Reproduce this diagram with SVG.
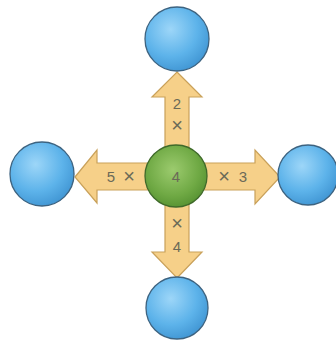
<svg xmlns="http://www.w3.org/2000/svg" width="336" height="341" viewBox="0 0 336 341">
<defs>
<radialGradient id="blue" cx="0.4" cy="0.35" r="0.7">
<stop offset="0" stop-color="#9dd6f8"/>
<stop offset="0.6" stop-color="#5db3ea"/>
<stop offset="1" stop-color="#3f94d2"/>
</radialGradient>
<radialGradient id="green" cx="0.45" cy="0.4" r="0.7">
<stop offset="0" stop-color="#9ccb6e"/>
<stop offset="0.6" stop-color="#6fa944"/>
<stop offset="1" stop-color="#4e8a2c"/>
</radialGradient>
<style>
.arrow{fill:#f6d089;stroke:#c9a15a;stroke-width:1.2;stroke-linejoin:miter}
.blue{fill:url(#blue);stroke:#3d6380;stroke-width:1.3}
.green{fill:url(#green);stroke:#3f6a2a;stroke-width:1.3}
.lbl{font-family:"Liberation Sans",Arial,sans-serif;font-size:15px;fill:#6b6a58;text-anchor:middle;dominant-baseline:central}
.x{font-size:20px}
</style>
</defs>
<rect width="336" height="341" fill="#ffffff"/>
<g id="connectors">
<polygon class="arrow" points="177,72 202,97 189,97 189,176 165,176 165,97 152,97"/>
<polygon class="arrow" points="177,278 202,252 189,252 189,176 165,176 165,252 152,252"/>
<polygon class="arrow" points="75,177 97,150 97,163 176,163 176,190 97,190 97,203"/>
<polygon class="arrow" points="280,177 255,150 255,163 176,163 176,190 255,190 255,204"/>
<text class="lbl" x="177" y="103">2</text>
<text class="lbl x" x="177" y="125">×</text>
<text class="lbl x" x="177" y="223">×</text>
<text class="lbl" x="177" y="246">4</text>
<text class="lbl" x="111" y="176">5</text>
<text class="lbl x" x="129" y="176">×</text>
<text class="lbl x" x="224" y="176">×</text>
<text class="lbl" x="243" y="176">3</text>
</g>
<g id="top"><circle class="blue" cx="177" cy="39" r="32"/></g>
<g id="bottom"><circle class="blue" cx="177" cy="308" r="31"/></g>
<g id="left"><circle class="blue" cx="42" cy="174" r="32"/></g>
<g id="right"><circle class="blue" cx="308" cy="175" r="30"/></g>
<g id="center"><circle class="green" cx="176" cy="176" r="31"/><text class="lbl" x="176" y="176">4</text></g>
</svg>
